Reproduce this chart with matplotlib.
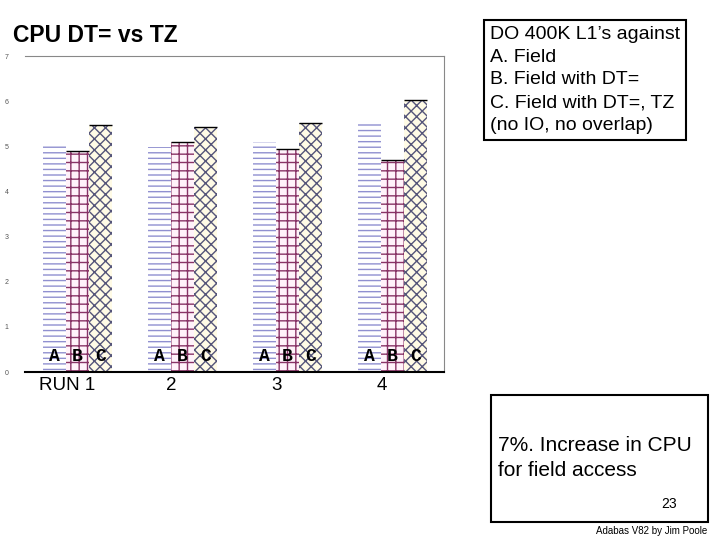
import numpy as np
import matplotlib.pyplot as plt

plt.rcParams['font.family'] = ['Liberation Sans', 'DejaVu Sans']

runs = ["RUN 1", "2", "3", "4"]
field = [5.0, 4.98, 5.1, 5.56]
field_dt = [4.89, 5.1, 4.94, 4.7]
field_dt_tz = [5.48, 5.43, 5.52, 6.03]
yticks = [0, 1, 2, 3, 4, 5, 6, 7]

fig = plt.figure(figsize=(7.2, 5.4), dpi=100)
ax = fig.add_axes([0.035, 0.311, 0.582, 0.585])

x = np.arange(len(runs))
w = 0.22
plt.rcParams['hatch.linewidth'] = 1.0
ax.bar(x - w, field, w, color='white', edgecolor='#9090d0', hatch='---', linewidth=0)
ax.bar(x, field_dt, w, color='#fff2fa', edgecolor='#883366', hatch='++', linewidth=0)
ax.bar(x + w, field_dt_tz, w, color='#fffbe6', edgecolor='#55557a', hatch='xxx', linewidth=0)
# black top edges
ax.hlines(field_dt, x - w / 2, x + w / 2, color='black', lw=1)
ax.hlines(field_dt_tz, x + w / 2, x + 1.5 * w, color='black', lw=1)

for i in x:
    for off, lab in zip([-w, 0, w], "ABC"):
        ax.text(i + off, 0.35, lab, ha='center', va='center', fontsize=13,
                fontfamily=['Liberation Mono'], fontweight='bold')

ax.set_xlim(-0.495, 3.495)
ax.set_ylim(0, 7)
ax.set_yticks(yticks)
ax.set_yticklabels([str(v) for v in yticks], fontsize=5, color='#555555')
ax.tick_params(axis='y', length=0, pad=12)
ax.set_xticks([])
for i, lab in enumerate(runs):
    ax.text(i - 0.1, -0.12, lab, ha='center', va='top', fontsize=13.5,
            transform=ax.transData)
ax.spines['left'].set_visible(False)
ax.spines['top'].set_color('#888888')
ax.spines['right'].set_color('#888888')
ax.spines['bottom'].set_color('black')
ax.spines['bottom'].set_linewidth(1.5)

fig.text(0.018, 0.935, "CPU DT= vs TZ", fontsize=16.5, fontweight='bold', va='center')

fig.text(0.681, 0.852, "DO 400K L1’s against\nA. Field\nB. Field with DT=\nC. Field with DT=, TZ\n(no IO, no overlap)",
         fontsize=14, va='center', ha='left', linespacing=1.45,
         bbox=dict(boxstyle='square,pad=0.3', fc='white', ec='black', lw=1.5))

box = plt.Rectangle((0.682, 0.033), 0.301, 0.236, transform=fig.transFigure,
                    fill=False, ec='black', lw=1.5)
fig.add_artist(box)
fig.text(0.692, 0.152, "7%. Increase in CPU\nfor field access", fontsize=15,
         va='center', linespacing=1.45)
fig.text(0.94, 0.06, "23", fontsize=10, ha='right')
fig.text(0.982, 0.012, "Adabas V82 by Jim Poole", fontsize=7, ha='right')

fig.savefig("out.png", dpi=100)
